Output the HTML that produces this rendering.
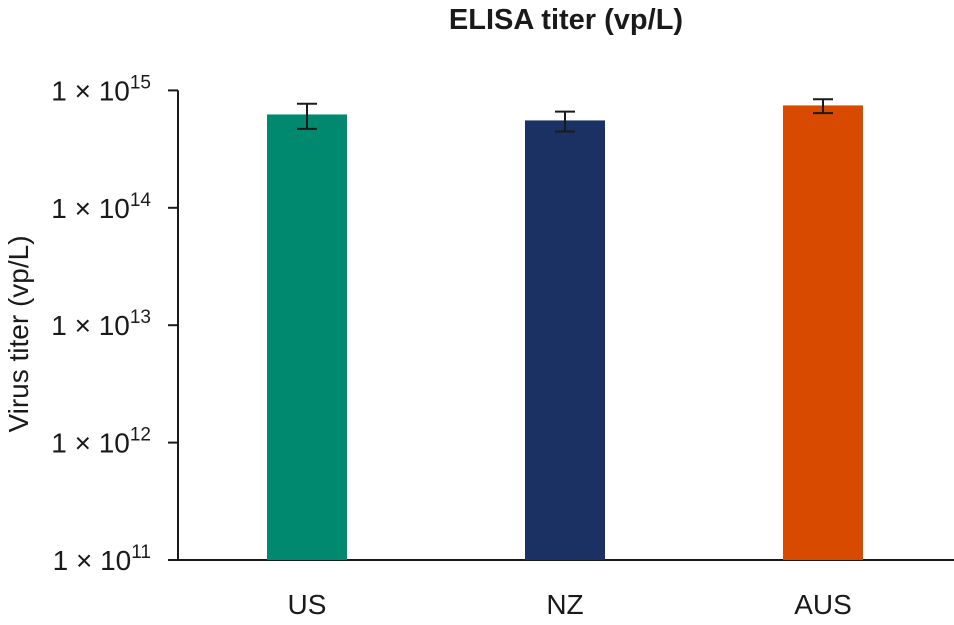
<!DOCTYPE html>
<html><head><meta charset="utf-8"><style>
body{margin:0;background:#fff;}
svg text{font-family:"Liberation Sans",sans-serif;fill:#1a1a1a;}
</style></head><body>
<svg id="chart" width="954" height="620">
<text x="566" y="29" text-anchor="middle" font-size="29" font-weight="bold">ELISA titer (vp/L)</text>
<text transform="translate(28,334) rotate(-90)" text-anchor="middle" font-size="28">Virus titer (vp/L)</text>
<g id="g"></g>
</svg>
<script>
const categories=["US","NZ","AUS"];
const values=[6.24e14,5.55e14,7.45e14];
const errHigh=[7.7e14,6.6e14,8.4e14];
const errLow=[4.7e14,4.47e14,6.4e14];
const colors=["#00896f","#1b3063","#d84a00"];
const tickExps=[11,12,13,14,15];
const NS="http://www.w3.org/2000/svg";
const g=document.getElementById('g');
const y0=560,dec=117.4;
function y(v){return y0-(Math.log10(v)-11)*dec;}
function xc(i){return 307+i*258;}
function mk(t,a){const e=document.createElementNS(NS,t);for(const k in a)e.setAttribute(k,a[k]);g.appendChild(e);return e;}
let ax=mk('line',{x1:178,y1:y(1e15),x2:178,y2:y0,stroke:'#1a1a1a','stroke-width':2});


let xa=mk('line',{x1:177,y1:y0,x2:954,y2:y0,stroke:'#1a1a1a','stroke-width':2});


tickExps.forEach(e=>{
 const yy=y(Math.pow(10,e));
 let t=mk('line',{x1:168,y1:yy,x2:178,y2:yy,stroke:'#1a1a1a','stroke-width':2});
 
 
 let l=mk('text',{x:151,y:yy+10,'text-anchor':'end','font-size':28});
 
 
 l.innerHTML='1 × 10<tspan dy="-12" font-size="19">'+e+'</tspan>';
});
categories.forEach((c,i)=>{
 const cx=xc(i);
 let b=mk('rect',{x:cx-40,y:y(values[i]),width:80,height:y0-y(values[i]),fill:colors[i]});
 
 
 let eb=mk('path',{d:`M${cx-10},${y(errHigh[i])}H${cx+10}M${cx},${y(errHigh[i])}V${y(errLow[i])}M${cx-10},${y(errLow[i])}H${cx+10}`,stroke:'#1a1a1a','stroke-width':2,fill:'none'});
 
 
 let l=mk('text',{x:cx,y:614,'text-anchor':'middle','font-size':28});
 
 
 l.textContent=c;
});
</script>
</body></html>
